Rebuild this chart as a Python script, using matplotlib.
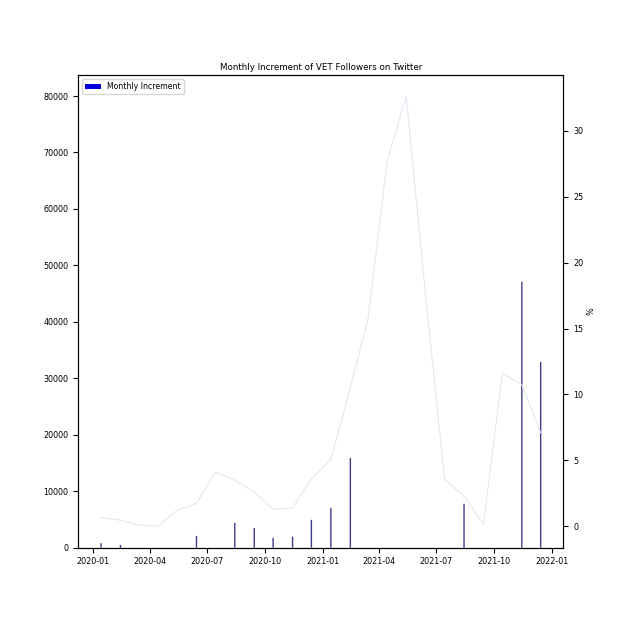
import numpy as np
import matplotlib.pyplot as plt
import pandas as pd

# monthly data
months = pd.to_datetime([f'{y}-{m:02d}-14' for y in (2020, 2021) for m in range(1, 13)])

increment = [800, 500, 0, 0, 0, 2100, 0, 4400, 3500, 1750, 1950, 4950,
             7050, 15900, 0, 0, 0, 0, 0, 7800, 0, 0, 47100, 32900]

increment_pct = [0.66, 0.46, 0.08, 0.0, 1.2, 1.75, 4.1, 3.5, 2.6, 1.3, 1.37, 3.6,
                 5.08, 10.5, 15.7, 27.8, 32.6, 17.4, 3.56, 2.3, 0.15, 11.6, 10.75, 7.1]

fig, ax = plt.subplots(figsize=(6.26, 6.26), dpi=100)
fig.subplots_adjust(left=0.125, right=0.9, top=0.88, bottom=0.125)

bars = ax.bar(months, increment, width=2.2, color='#3c3c8c', linewidth=0,
              label='Monthly Increment')
for b in bars:
    b.set_snap(False)
ax.set_ylim(0, 83700)
ax.tick_params(labelsize=5.8)
leg = ax.legend(loc='upper left', fontsize=5.6)
for h in leg.legend_handles:
    h.set_color('#0000dd')

ax2 = ax.twinx()
ax2.plot(months, increment_pct, color='#e6e6f2', linewidth=0.8)
ax2.set_ylabel('%', fontsize=5.8, labelpad=2)
ax2.tick_params(labelsize=5.8)

ax.set_title('Monthly Increment of VET Followers on Twitter', fontsize=6.3, pad=4)

plt.savefig('out.png')
